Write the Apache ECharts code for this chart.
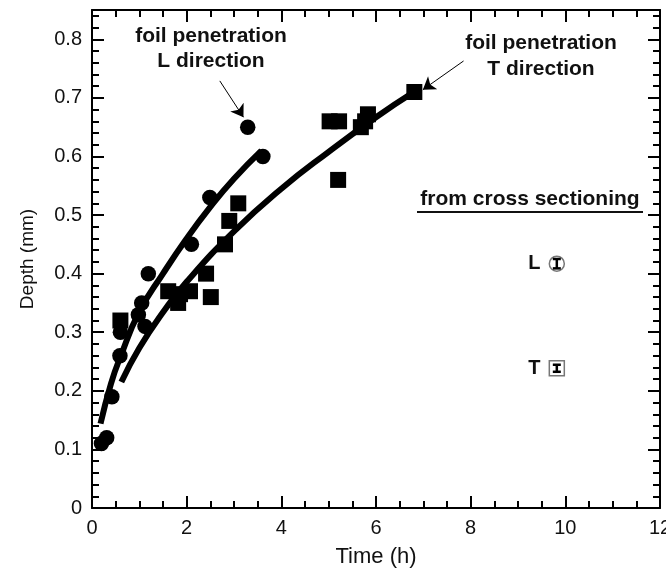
<!DOCTYPE html>
<html>
<head>
<meta charset="utf-8">
<script src="https://cdn.jsdelivr.net/npm/echarts@6/dist/echarts.min.js"></script>
<style>
  html, body { margin: 0; padding: 0; background: #fff; }
  #chart { width: 666px; height: 576px; }
</style>
</head>
<body>
<div id="chart"></div>
<script>
// foil penetration, L direction (circles)
const lPoints = [
  [0.20, 0.11], [0.31, 0.12], [0.42, 0.19], [0.59, 0.26], [0.60, 0.30],
  [0.98, 0.33], [1.05, 0.35], [1.12, 0.31], [1.19, 0.40], [2.10, 0.45],
  [2.49, 0.53], [3.29, 0.65], [3.61, 0.60]
];
// foil penetration, T direction (squares)
const tPoints = [
  [0.60, 0.32], [1.61, 0.37], [1.82, 0.35], [1.86, 0.365], [2.07, 0.37],
  [2.41, 0.40], [2.51, 0.36], [2.81, 0.45], [2.90, 0.49], [3.09, 0.52],
  [5.02, 0.66], [5.22, 0.66], [5.20, 0.56], [5.68, 0.65], [5.77, 0.66],
  [5.83, 0.672], [6.81, 0.71]
];
// fitted curves
const lFit = [
  [0.18, 0.144], [0.4, 0.212], [0.6, 0.258], [1.0, 0.335], [1.5, 0.40],
  [2.0, 0.46], [2.5, 0.514], [3.0, 0.562], [3.58, 0.61]
];
const tFit = [
  [0.62, 0.215], [1.0, 0.273], [1.5, 0.334], [2.0, 0.386], [3.0, 0.472],
  [4.0, 0.545], [5.0, 0.608], [6.0, 0.667], [6.8, 0.71]
];
// from cross sectioning: [x, y, low, high]
const crossL = [[9.82, 0.417, 0.409, 0.425]];
const crossT = [[9.82, 0.2385, 0.2325, 0.2445]];
// arrows [from, to]
const arrowL = [[2.70, 0.729], [3.20, 0.667]];
const arrowT = [[7.85, 0.763], [6.99, 0.714]];

const xTicks = { min: 0, max: 12, interval: 2 };
const yTicks = { min: 0, max: 0.85, interval: 0.1 };

const font = "'Liberation Sans', Arial, Helvetica, sans-serif";

const chart = echarts.init(document.getElementById('chart'));

function axisBase(showLabels, split) {
  return {
    type: 'value',
    axisLine: { show: true, onZero: false, lineStyle: { color: '#000', width: 2 } },
    axisTick: { show: true, inside: true, length: 12, lineStyle: { color: '#000', width: 2 } },
    minorTick: { show: true, splitNumber: split, length: 7, lineStyle: { color: '#000', width: 2 } },
    splitLine: { show: false },
    axisLabel: { show: showLabels, color: '#111', fontSize: 20, fontFamily: font, margin: 10, showMaxLabel: showLabels && split === 4 }
  };
}

function errorBars(params, api) {
  const x = api.value(0);
  const top = api.coord([x, api.value(3)]);
  const bot = api.coord([x, api.value(2)]);
  const w = 4;
  const style = { stroke: '#000', lineWidth: 2.5 };
  return {
    type: 'group',
    children: [
      { type: 'line', shape: { x1: top[0], y1: top[1], x2: bot[0], y2: bot[1] }, style },
      { type: 'line', shape: { x1: top[0] - w, y1: top[1], x2: top[0] + w, y2: top[1] }, style },
      { type: 'line', shape: { x1: bot[0] - w, y1: bot[1], x2: bot[0] + w, y2: bot[1] }, style }
    ]
  };
}

const labelStyle = { show: true, position: 'left', distance: 8, color: '#111', fontSize: 20, fontWeight: 'bold', fontFamily: font };

const option = {
  animation: false,
  backgroundColor: '#fff',
  grid: { left: 92, right: 6, top: 10, bottom: 68, containLabel: false, outerBoundsMode: 'none' },
  xAxis: [
    Object.assign(axisBase(true, 4), xTicks, {
      position: 'bottom',
      name: 'Time (h)', nameLocation: 'middle', nameGap: 38,
      nameTextStyle: { fontSize: 22, color: '#111', fontFamily: font }
    }),
    Object.assign(axisBase(false, 4), xTicks, { position: 'top' })
  ],
  yAxis: [
    Object.assign(axisBase(true, 5), yTicks, {
      position: 'left',
      name: 'Depth (mm)', nameLocation: 'middle', nameGap: 55,
      nameTextStyle: { fontSize: 19, color: '#111', fontFamily: font }
    }),
    Object.assign(axisBase(false, 5), yTicks, { position: 'right' })
  ],
  series: [
    {
      type: 'line', data: tFit, smooth: true, symbol: 'none',
      lineStyle: { color: '#000', width: 6 }, z: 3
    },
    {
      type: 'line', data: lFit, smooth: true, symbol: 'none',
      lineStyle: { color: '#000', width: 6 }, z: 3
    },
    {
      type: 'scatter', data: tPoints, symbol: 'rect', symbolSize: 16,
      itemStyle: { color: '#000', opacity: 1 }, z: 4
    },
    {
      type: 'scatter', data: lPoints, symbol: 'circle', symbolSize: 15.5,
      itemStyle: { color: '#000', opacity: 1 }, z: 4
    },
    {
      type: 'scatter', data: crossL, symbol: 'circle', symbolSize: 15,
      itemStyle: { color: '#fff', borderColor: '#777', borderWidth: 1.5, opacity: 1 },
      label: Object.assign({ formatter: 'L' }, labelStyle), z: 4
    },
    {
      type: 'scatter', data: crossT, symbol: 'rect', symbolSize: 15,
      itemStyle: { color: '#fff', borderColor: '#777', borderWidth: 1.5, opacity: 1 },
      label: Object.assign({ formatter: 'T' }, labelStyle), z: 4
    },
    {
      type: 'custom', data: crossL.concat(crossT), renderItem: errorBars,
      encode: { x: 0, y: 1 }, z: 5
    },
    {
      type: 'lines', coordinateSystem: 'cartesian2d',
      data: [{ coords: arrowL }, { coords: arrowT }],
      symbol: ['none', 'arrow'], symbolSize: 12,
      lineStyle: { color: '#000', width: 1, opacity: 1 }, z: 5
    }
  ],
  graphic: [
    {
      type: 'text', x: 211, y: 24, silent: true,
      style: {
        text: 'foil penetration\nL direction', textAlign: 'center', lineHeight: 25,
        font: 'bold 21px ' + font, fill: '#111'
      }
    },
    {
      type: 'text', x: 541, y: 30, silent: true,
      style: {
        text: 'foil penetration\nT direction', textAlign: 'center', lineHeight: 26,
        font: 'bold 21px ' + font, fill: '#111'
      }
    },
    {
      type: 'text', x: 530, y: 189, silent: true,
      style: {
        text: 'from cross sectioning', textAlign: 'center',
        font: 'bold 21px ' + font, fill: '#111'
      }
    },
    {
      type: 'line', silent: true,
      shape: { x1: 417, y1: 212, x2: 643, y2: 212 },
      style: { stroke: '#111', lineWidth: 2 }
    }
  ]
};

chart.setOption(option);
</script>
</body>
</html>
